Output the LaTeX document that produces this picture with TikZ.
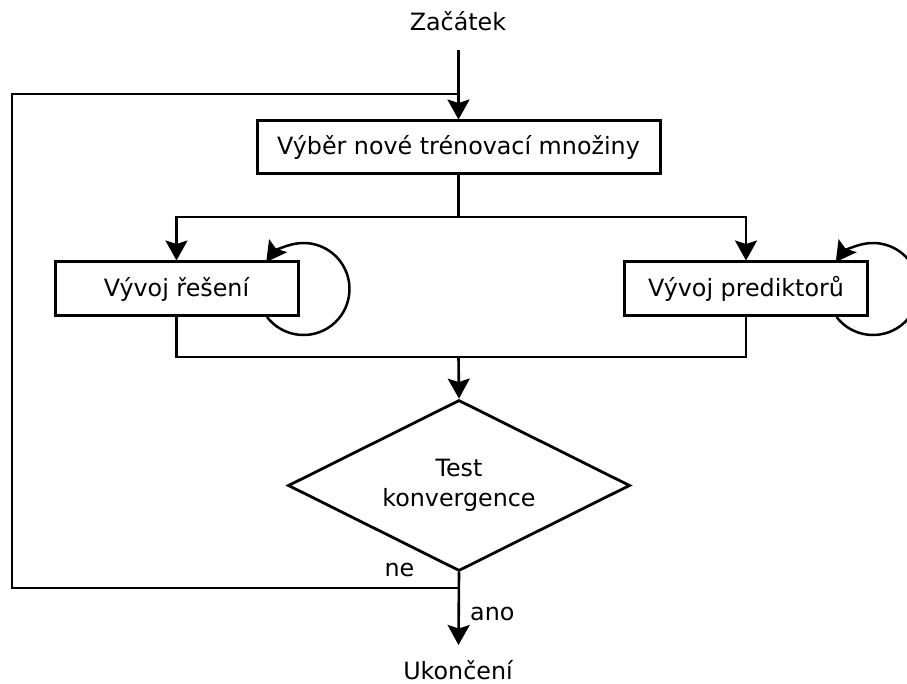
\documentclass[tikz,border=0pt]{standalone}
\usepackage{fontspec}
\setmainfont{DejaVu Sans}
\usetikzlibrary{arrows.meta,shapes.geometric}
\begin{document}
\begin{tikzpicture}[x=1pt,y=-1pt,
  font=\fontsize{23.8}{30}\selectfont,
  tip/.tip={Stealth[length=20pt,width=22pt,inset=3.5pt]},
  conn/.style={line width=2.6pt},
  arr/.style={conn,-tip},
  selfloop/.style={line width=2.5pt,-tip},
  stepbox/.style={draw,line width=3pt,minimum height=54pt,inner sep=0pt},
  decision/.style={diamond,shape aspect=2,draw,line width=2.8pt,minimum width=342pt,
    minimum height=171pt,inner sep=0pt,align=center},
  txt/.style={inner sep=0pt,anchor=base}]
\useasboundingbox (0,0) rectangle (907,684);
\clip (0,0) rectangle (907,684);

% process steps
\node[stepbox,minimum width=403pt,minimum height=53pt] (sel) at (458.5,147.5)
  {Výběr nové trénovací množiny};
\node[stepbox,minimum width=243pt] (sol) at (176.5,289) {Vývoj řešení};
\node[stepbox,minimum width=243pt] (pred) at (746,289) {Vývoj prediktorů};
\node[decision] (conv) at (459,485.5) {Test\\konvergence};

% terminal labels and branch labels
\node[txt] (start) at (458,31) {Začátek};
\node[txt] (stop) at (458,679) {Ukončení};
\node[txt] (no) at (399.5,576) {ne};
\node[txt,anchor=base west] (yes) at (470,620) {ano};

% routing points
\coordinate (entry) at (458.5,50);
\coordinate (exit) at (458.5,645);
\coordinate (backL) at (12,588);
\coordinate (backT) at (458.5,94);
\coordinate (fork) at (458.5,217);
\coordinate (merge) at (458.5,357);

% main flow
\draw[arr] (entry) -- (sel.north);
\draw[conn] (sel.south) -- (fork);
\draw[arr] (fork) -| (sol.north);
\draw[arr] (fork) -| (pred.north);
\draw[conn] (sol.south) |- (merge) -| (pred.south);
\draw[arr] (merge) -- (conv.north);
\draw[conn] (conv.south) |- (backL) |- (backT);
\draw[arr] (conv.south) -- (exit);

% self loops on the two development steps
\draw[selfloop] ([xshift=4pt]sol.east) ++(-142.5:46pt)
  arc[start angle=-142.5,end angle=144,radius=46pt];
\draw[selfloop] ([xshift=4pt]pred.east) ++(-142.5:46pt)
  arc[start angle=-142.5,end angle=144,radius=46pt];
\end{tikzpicture}
\end{document}
